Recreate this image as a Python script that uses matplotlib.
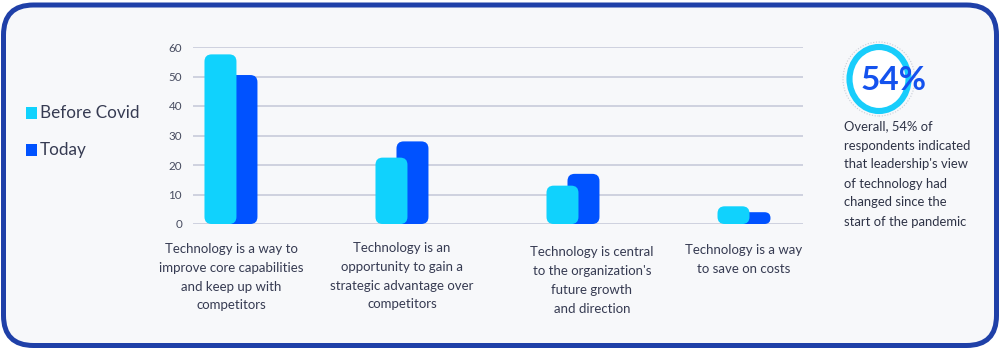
import matplotlib
matplotlib.use("Agg")
import matplotlib.pyplot as plt
from matplotlib.patches import FancyBboxPatch, Ellipse, Rectangle
import numpy as np

plt.rcParams['font.family'] = ['Lato', 'DejaVu Sans']

# data
categories = [
    "Technology is a way to\nimprove core capabilities\nand keep up with\ncompetitors",
    "Technology is an\nopportunity to gain a\nstrategic advantage over\ncompetitors",
    "Technology is central\nto the organization's\nfuture growth\nand direction",
    "Technology is a way\nto save on costs",
]
before_covid = [57.5, 22.5, 13, 6]
today = [50.5, 28, 17, 4]
series_names = ["Before Covid", "Today"]
yticks = [0, 10, 20, 30, 40, 50, 60]
highlight = "54%"
note = ("Overall, 54% of\nrespondents indicated\nthat leadership's view\n"
        "of technology had\nchanged since the\nstart of the pandemic")

c_before = "#10d2fd"
c_today = "#0052ff"
txt = "#363b52"

W, H = 1000, 349
fig = plt.figure(figsize=(W / 100, H / 100), dpi=100)
fig.patch.set_facecolor("white")

# rounded card with blue border (figure coords, rounding in pixels)
fig.patches.append(FancyBboxPatch(
    (3.5 / W, 3.5 / H), 993 / W, 340.5 / H,
    boxstyle="round,pad=0,rounding_size=%f" % (30 / W),
    mutation_aspect=W / H, transform=fig.transFigure,
    fc="#f7f8fa", ec="#1f40a8", lw=3.6, zorder=-5))

ax = fig.add_axes([193 / W, 1 - 224 / H, 610 / W, 177 / H])
ax.set_facecolor("none")
ax.set_xlim(-0.222, 3.345)
ax.set_ylim(0, 60)
ax.set_yticks(yticks)
ax.set_xticks([])
ax.grid(axis="y", color="#c8cbda", lw=1.2, zorder=0)
ax.tick_params(axis="y", length=0, pad=8, labelsize=8.4, labelcolor="#474c60")
for s in ax.spines.values():
    s.set_visible(False)

x = np.arange(len(categories))
bw = 0.187
off = 0.0614
bars_b = ax.bar(x - off, before_covid, bw, color=c_before, zorder=3)
bars_t = ax.bar(x + off, today, bw, color=c_today, zorder=2)

# swap plain bars for rounded ones
xpx = 610 / (3.345 + 0.222)
ypx = 177 / 60
aspect = xpx / ypx
for bars in (bars_b, bars_t):
    for p in bars:
        x0, y0 = p.get_x(), p.get_y()
        w, h = p.get_width(), p.get_height()
        r = min(0.042, h / aspect / 2)
        ax.add_patch(FancyBboxPatch(
            (x0, y0), w, h, boxstyle="round,pad=0,rounding_size=%f" % r,
            mutation_aspect=aspect, fc=p.get_facecolor(), ec="none",
            zorder=p.get_zorder()))
        p.remove()

# category labels under the groups
label_y = [251.5, 250.5, 255, 253]
label_dx = [0.0, 0.0, 0.11, 0.0]
for i, lab in enumerate(categories):
    xp = 193 + (x[i] + label_dx[i] + 0.222) * xpx
    fig.text(xp / W, 1 - (label_y[i] - 8.5) / H, lab, ha="center", va="top",
             fontsize=9.5, color=txt, linespacing=1.68)

# legend
for name, col, yc in zip(series_names, [c_before, c_today], [113, 150]):
    fig.patches.append(Rectangle((26 / W, 1 - (yc + 5.5) / H), 10.5 / W, 11 / H,
                                 transform=fig.transFigure, fc=col, ec="none"))
    fig.text(39.5 / W, 1 - yc / H, name, ha="left", va="center",
             fontsize=12.3, color=txt)

# 54% ring
fig.patches.append(Ellipse((879 / W, 1 - 79 / H), 72 / W, 74 / H,
                           transform=fig.transFigure, fill=False,
                           ec="#c9ccd6", lw=0.8, ls=(0, (1, 1.5))))
fig.patches.append(Ellipse((879 / W, 1 - 79 / H), 59 / W, 64 / H,
                           transform=fig.transFigure, fc="white",
                           ec="#18cdfb", lw=4.4))
fig.text(894 / W, 1 - 81 / H, highlight, ha="center", va="center",
         fontsize=24, color="#1452ee", fontweight="bold")
fig.text(844 / W, 1 - 120.5 / H, note, ha="left", va="top",
         fontsize=9.4, color="#2e3346", linespacing=1.7)

fig.savefig("out.png", dpi=100)
